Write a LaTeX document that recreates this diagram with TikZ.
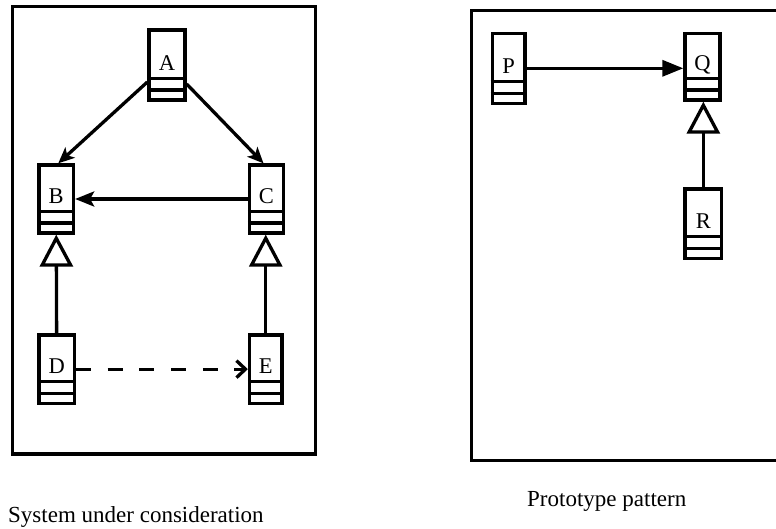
\documentclass[tikz,border=0pt]{standalone}
\usepackage{fontspec}
\setmainfont{Liberation Serif}
\usetikzlibrary{arrows.meta,fit,calc}
\tikzset{
  frame/.style={line width=3.3pt},
  clsbox/.style={draw, line width=3.3pt, inner sep=0pt, fill=white},
  boxline/.style={line width=3.3pt},
  lbl/.style={anchor=base, inner sep=0pt, font=\fontsize{22.5}{26}\selectfont},
  conn/.style={line width=3.3pt},
  captext/.style={anchor=base west, inner sep=0pt, font=\fontsize{23}{27}\selectfont},
  genhead/.style={-{Triangle[open,length=32pt,width=33pt]}},
}
\newcommand\umlbox[6]{%
  \node[clsbox, fit={(#2,#3) (#4,#5)}] (#1) {};
  \draw[boxline] ([yshift=23.4pt]#1.south west) -- ([yshift=23.4pt]#1.south east);
  \draw[boxline] ([yshift=11.7pt]#1.south west) -- ([yshift=11.7pt]#1.south east);
  \node[lbl] (#1-name) at ([yshift=31pt]#1.south) {#6};
}
\begin{document}
\begin{tikzpicture}[x=1pt,y=-1pt]
\useasboundingbox (0,0) rectangle (776,529);
% frames
\draw[frame] (12.5,6.5) rectangle (315.5,454);
\draw[frame] (776,10.5) -- (471.5,10.5) -- (471.5,460.5) -- (776,460.5);
% classes
\umlbox{A}{149}{30}{185}{100}{A}
\umlbox{B}{39}{165}{73.5}{233}{B}
\umlbox{C}{249.5}{165}{283.5}{233}{C}
\umlbox{D}{39}{335}{74.3}{403.3}{D}
\umlbox{E}{249.5}{335}{282}{403.3}{E}
\umlbox{P}{492.3}{33.3}{525}{103.3}{P}
\umlbox{Q}{685}{33.3}{720}{100}{Q}
\umlbox{R}{685}{189}{721.7}{258.3}{R}
% connectors
\draw[conn, -{Stealth[length=16pt,width=14pt,inset=4pt]}] ([yshift=-17pt]A.west) -- ([xshift=2pt]B.north);
\draw[conn, -{Stealth[length=16pt,width=14pt,inset=4pt]}] ([yshift=-19pt]A.east) -- ([xshift=-3pt]C.north);
\draw[conn, -{Stealth[length=19pt,width=15pt,inset=4pt]}] (C.west) -- (B.east);
\draw[conn, genhead] (D.north) -- (B.south);
\draw[conn, genhead] (E.north) -- (E.north |- C.south);
\draw[conn, dash pattern=on 15pt off 16.7pt, -{Straight Barb[length=9pt,width=17pt]}] (D.east) -- (E.west);
\draw[conn, -{Triangle[length=21pt,width=16pt]}] (P.east) -- (P.east -| Q.west);
\draw[conn, genhead] (R.north) -- (R.north |- Q.south);
% captions
\node[captext] (cap1) at (8,522) {System under consideration};
\node[captext] (cap2) at (527,506) {Prototype pattern};
\end{tikzpicture}
\end{document}
